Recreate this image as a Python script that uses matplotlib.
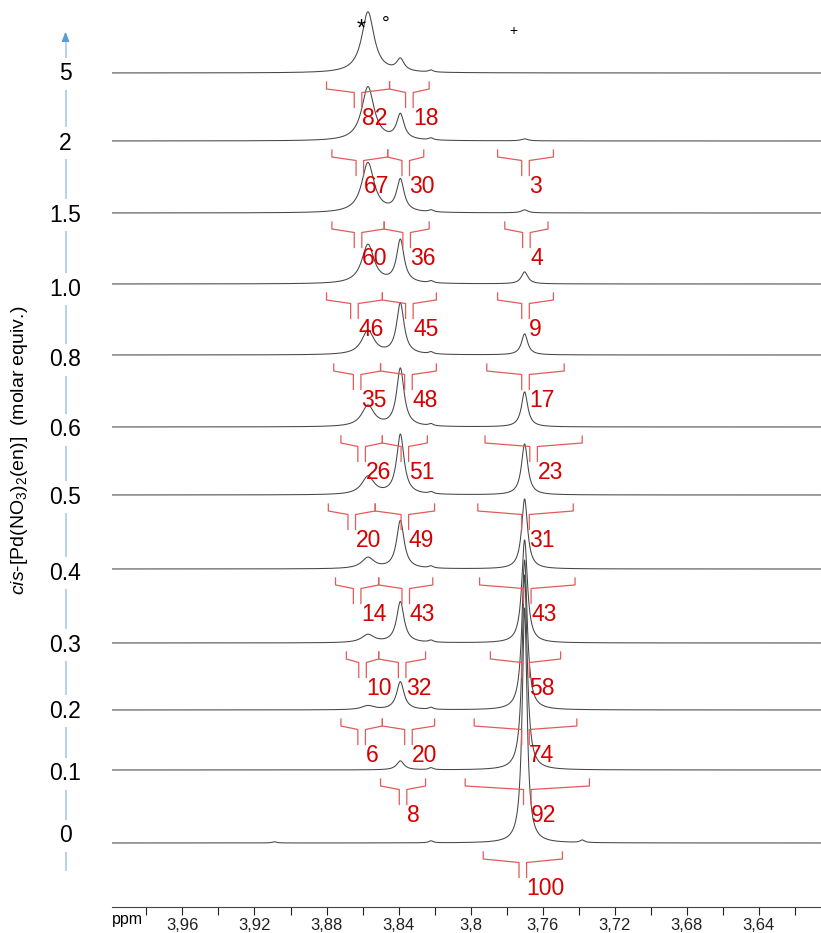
import numpy as np
import matplotlib
matplotlib.use('Agg')
import matplotlib.pyplot as plt

plt.rcParams['font.family'] = 'Liberation Sans'
plt.rcParams['mathtext.fontset'] = 'custom'
plt.rcParams['mathtext.rm'] = 'Liberation Sans'
plt.rcParams['mathtext.it'] = 'Liberation Sans:italic'

# molar equivalents of cis-[Pd(NO3)2(en)], bottom spectrum first
equiv = ['0', '0.1', '0.2', '0.3', '0.4', '0.5', '0.6', '0.8', '1.0', '1.5', '2', '5']

# relative integrals (%) of the three signals (* / ° / +)
int_star = [None, None, 6, 10, 14, 20, 26, 35, 46, 60, 67, 82]
int_circ = [None, 8, 20, 32, 43, 49, 51, 48, 45, 36, 30, 18]
int_plus = [100, 92, 74, 58, 43, 31, 23, 17, 9, 4, 3, None]

# integration limits (ppm)
lim_star = [None, None, 3.872, 3.869, 3.875, 3.879, 3.872, 3.876, 3.880, 3.877, 3.877, 3.880]
lim_mid = [None, 3.850, 3.849, 3.851, 3.851, 3.853, 3.849, 3.850, 3.849, 3.848, 3.846, 3.845]
lim_circ = [None, 3.825, 3.820, 3.825, 3.821, 3.820, 3.824, 3.819, 3.819, 3.823, 3.826, 3.823]
lim_plus_l = [3.793, 3.803, 3.798, 3.789, 3.795, 3.796, 3.792, 3.791, 3.785, 3.781, 3.785, None]
lim_plus_r = [3.749, 3.734, 3.741, 3.750, 3.742, 3.743, 3.738, 3.748, 3.754, 3.757, 3.754, None]

# peak positions (ppm), heights and half widths of each signal per spectrum
ppm_star, ppm_circ, ppm_plus = 3.857, 3.839, 3.770
h_star = [0, 0, 4, 8, 11, 18, 21, 24, 39, 50, 54, 61]
h_circ = [0, 9, 28, 41, 48, 60, 58, 51, 43, 32, 25, 12]
h_plus = [235, 195, 150, 103, 70, 51, 35, 21, 12, 3, 2, 0]
w_star = 0.0042
w_circ = 0.0025
w_plus = [0.0016, 0.0017, 0.0018, 0.0019, 0.0020, 0.0021, 0.0021, 0.0021, 0.0022, 0.0022, 0.0022, 0.0022]
# small impurity signals: one in every spectrum, two more in the bottom one
minor_ppm = 3.822
minor_h = 2.0
extra_ppm = [3.909, 3.738]
extra_h = [1.2, 2.5]

# vertical layout (pixel rows of the baselines)
trace_y = [843, 770, 710, 643, 569, 495, 427, 355, 284, 213, 141, 73]
label_y = [836, 774, 711, 645, 573, 497, 430, 360, 289, 215, 143, 74]


def lor(x, x0, h, w):
    return h * w ** 2 / ((x - x0) ** 2 + w ** 2)


fig = plt.figure(figsize=(8.21, 9.33), dpi=100)
ax = fig.add_axes([111.7 / 821, 26 / 933, (821 - 111.7) / 821, 907 / 933])
ax.set_xlim(3.9993, 3.6054)
ax.set_ylim(907, 0)
ax.patch.set_visible(False)

x = np.linspace(3.9993, 3.6054, 3000)
for i in range(len(equiv)):
    s = lor(x, ppm_star, h_star[i], w_star) + lor(x, ppm_circ, h_circ[i], w_circ)
    s += lor(x, ppm_plus, h_plus[i], w_plus[i])
    s += lor(x, minor_ppm, minor_h, 0.0015)
    if i == 0:
        for p, h in zip(extra_ppm, extra_h):
            s += lor(x, p, h, 0.0015)
    ax.plot(x, trace_y[i] - s, color='#454545', lw=0.75)

red_line = '#e35a5a'
red_text = '#d50000'


def bracket(lo, hi, base, label):
    c = (lo + hi) / 2
    g = 0.0021
    ys = [base + 9, base + 16, base + 19.5, base + 34.5]
    ax.plot([lo, lo, c + g, c + g], ys, color=red_line, lw=0.9)
    ax.plot([hi, hi, c - g, c - g], ys, color=red_line, lw=0.9)
    ax.text(c - g, base + 34, str(label), color=red_text, fontsize=16.5,
            ha='left', va='top')


for i in range(len(equiv)):
    b = trace_y[i]
    if int_star[i] is not None:
        bracket(lim_star[i], lim_mid[i], b, int_star[i])
    if int_circ[i] is not None:
        bracket(lim_mid[i], lim_circ[i], b, int_circ[i])
    if int_plus[i] is not None:
        bracket(lim_plus_l[i], lim_plus_r[i], b, int_plus[i])

ax.text(3.861, 30, '*', fontsize=17, ha='center', va='center')
ax.text(3.847, 24, '°', fontsize=14, ha='center', va='center')
ax.text(3.776, 31, '+', fontsize=10, ha='center', va='center')

ticks = [3.98, 3.96, 3.94, 3.92, 3.90, 3.88, 3.86, 3.84, 3.82, 3.80,
         3.78, 3.76, 3.74, 3.72, 3.70, 3.68, 3.66, 3.64, 3.62]
ticklabels = ['', '3,96', '', '3,92', '', '3,88', '', '3,84', '', '3,8',
              '', '3,76', '', '3,72', '', '3,68', '', '3,64', '']
ax.set_xticks(ticks)
ax.set_xticklabels(ticklabels)
ax.tick_params(axis='x', direction='out', length=6, width=0.8, pad=2,
               labelsize=12, colors='#222222')
ax.set_yticks([])
for sp in ['top', 'right', 'left']:
    ax.spines[sp].set_visible(False)
ax.spines['bottom'].set_color('#444444')
ax.spines['bottom'].set_linewidth(0.8)
fig.text(112 / 821, 1 - 912 / 933, 'ppm', fontsize=11.5, va='top', ha='left')

# left column: equivalents on a blue arrow
ax0 = fig.add_axes([0, 0, 1, 1])
ax0.set_xlim(0, 821)
ax0.set_ylim(933, 0)
ax0.axis('off')
ax0.plot([65.5, 65.5], [870, 36], color='#a8c8e8', lw=1.2, zorder=1)
ax0.annotate('', xy=(65.5, 29), xytext=(65.5, 38),
             arrowprops=dict(arrowstyle='-|>,head_width=0.22,head_length=0.55',
                             color='#5b9bd5', lw=1))
for lab, yy in zip(equiv, label_y):
    ax0.text(65.5, yy, lab, fontsize=16.5, ha='center', va='center', zorder=3,
             bbox=dict(facecolor='white', edgecolor='none', pad=3))

ax0.text(20, 450, r'$\it{cis}$-[Pd(NO$_3$)$_2$(en)]  (molar equiv.)', rotation=90,
         fontsize=14, ha='center', va='center')

fig.savefig('out.png', dpi=100)
